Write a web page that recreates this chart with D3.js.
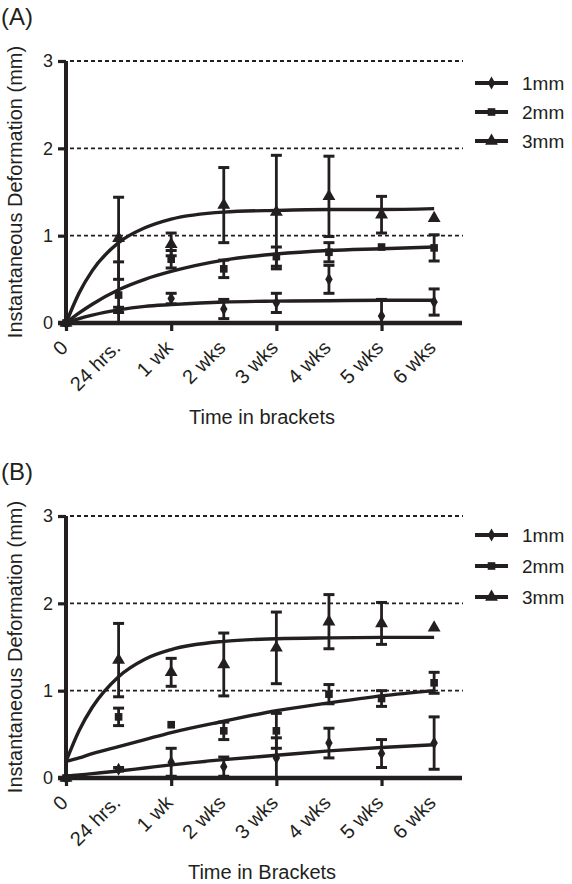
<!DOCTYPE html>
<html>
<head>
<meta charset="utf-8">
<script src="https://cdn.jsdelivr.net/npm/d3@7"></script>
<style>
  html, body { margin: 0; padding: 0; background: #fff; }
  svg text { font-family: "Liberation Sans", Arial, Helvetica, sans-serif; fill: #231f20; }
</style>
</head>
<body>
<svg id="chart" width="572" height="884"></svg>
<script>
// categories on the x axis (index positions 0..7)
var categories = ["0", "24 hrs.", "1 wk", "2 wks", "3 wks", "4 wks", "5 wks", "6 wks"];
var seriesNames = ["1mm", "2mm", "3mm"];
var yTicks = [0, 1, 2, 3];
var xMarkTicks = [0, 2, 4, 6];

// panel A - means and error values
var a1mm = [0, 0.15, 0.28, 0.16, 0.23, 0.50, 0.08, 0.24];
var a1mmErr = [0, 0.03, 0.06, 0.11, 0.11, 0.16, 0.19, 0.15];
var a2mm = [0, 0.32, 0.73, 0.62, 0.76, 0.81, 0.87, 0.86];
var a2mmErr = [0, 0.38, 0.10, 0.10, 0.11, 0.11, 0, 0.15];
var a3mm = [0, 0.97, 0.90, 1.35, 1.27, 1.45, 1.24, 1.20];
var a3mmErr = [0, 0.47, 0.13, 0.43, 0.65, 0.46, 0.21, 0];

// panel B - means and error values
var b1mm = [0, 0.10, 0.18, 0.13, 0.23, 0.40, 0.28, 0.40];
var b1mmErr = [0, 0.02, 0.16, 0.11, 0.23, 0.17, 0.16, 0.30];
var b2mm = [0, 0.70, 0.61, 0.54, 0.54, 0.96, 0.91, 1.09];
var b2mmErr = [0, 0.10, 0, 0.10, 0.20, 0.11, 0.09, 0.12];
var b3mm = [0, 1.35, 1.21, 1.30, 1.49, 1.79, 1.77, 1.72];
var b3mmErr = [0, 0.42, 0.16, 0.36, 0.41, 0.31, 0.24, 0];

// fitted curves at these x positions
var fitX = [0, 0.25, 0.5, 1, 1.5, 2, 3, 4, 5, 6, 7];
var a1fit = [0, 0.05, 0.09, 0.15, 0.19, 0.21, 0.24, 0.25, 0.255, 0.26, 0.26];
var a2fit = [0, 0.115, 0.215, 0.38, 0.50, 0.59, 0.72, 0.79, 0.83, 0.85, 0.87];
var a3fit = [0, 0.345, 0.60, 0.92, 1.09, 1.19, 1.27, 1.29, 1.30, 1.30, 1.31];
var b1fit = [0.02, 0.035, 0.05, 0.08, 0.115, 0.15, 0.21, 0.26, 0.31, 0.35, 0.38];
var b2fit = [0.19, 0.23, 0.28, 0.36, 0.44, 0.52, 0.65, 0.77, 0.86, 0.94, 1.00];
var b3fit = [0.19, 0.545, 0.81, 1.16, 1.36, 1.47, 1.565, 1.595, 1.605, 1.61, 1.61];

var INK = "#231f20";
var symbols = [d3.symbolDiamond, d3.symbolSquare, d3.symbolTriangle];
var symbolSizes = [48, 58, 72];

var svg = d3.select("#chart");

var x = d3.scaleLinear().domain([0, 7.53]).range([66, 462]);

function drawPanel(p) {
    var y = d3.scaleLinear().domain([0, 3]).range([p.yZero, p.yZero - 262]);
    var g = svg.append("g").attr("class", "panel");

    var means = [p.s1, p.s2, p.s3];
    var errs = [p.e1, p.e2, p.e3];
    var fits = [p.f1, p.f2, p.f3];

    // dashed grid
    g.append("g").selectAll("line")
        .data(yTicks.slice(1))
        .enter().append("line")
        .attr("x1", 70).attr("x2", x(7.53) + 1)
        .attr("y1", function (d) { return y(d); })
        .attr("y2", function (d) { return y(d); })
        .attr("stroke", INK)
        .attr("stroke-width", 1.8)
        .attr("stroke-dasharray", "4,3");

    // fitted curves
    var line = d3.line()
        .x(function (d) { return x(d[0]); })
        .y(function (d) { return y(d[1]); })
        .curve(d3.curveMonotoneX);

    fits.forEach(function (f) {
        g.append("path")
            .attr("d", line(fitX.map(function (v, i) { return [v, f[i]]; })))
            .attr("fill", "none")
            .attr("stroke", INK)
            .attr("stroke-width", 3.4);
    });

    // error bars
    means.forEach(function (m, s) {
        var bars = g.append("g").selectAll("g")
            .data(m.map(function (v, i) { return {i: i, v: v, e: errs[s][i]}; })
                .filter(function (d) { return d.e > 0; }))
            .enter().append("g");

        bars.append("line")
            .attr("x1", function (d) { return x(d.i); })
            .attr("x2", function (d) { return x(d.i); })
            .attr("y1", function (d) { return y(Math.max(0, d.v - d.e)); })
            .attr("y2", function (d) { return y(d.v + d.e); })
            .attr("stroke", INK).attr("stroke-width", 2.8);

        bars.append("line")
            .attr("x1", function (d) { return x(d.i) - 5.5; })
            .attr("x2", function (d) { return x(d.i) + 5.5; })
            .attr("y1", function (d) { return y(d.v + d.e); })
            .attr("y2", function (d) { return y(d.v + d.e); })
            .attr("stroke", INK).attr("stroke-width", 3);

        bars.filter(function (d) { return d.v - d.e > 0; })
            .append("line")
            .attr("x1", function (d) { return x(d.i) - 5.5; })
            .attr("x2", function (d) { return x(d.i) + 5.5; })
            .attr("y1", function (d) { return y(d.v - d.e); })
            .attr("y2", function (d) { return y(d.v - d.e); })
            .attr("stroke", INK).attr("stroke-width", 3);
    });

    // markers
    means.forEach(function (m, s) {
        g.append("g").selectAll("path")
            .data(m)
            .enter().append("path")
            .attr("d", d3.symbol().type(symbols[s]).size(symbolSizes[s]))
            .attr("transform", function (d, i) { return "translate(" + x(i) + "," + y(d) + ")"; })
            .attr("fill", INK);
    });

    // y axis
    var yAxis = g.append("g")
        .attr("transform", "translate(" + x(0) + ",0)")
        .call(d3.axisLeft(y).tickValues(yTicks).tickSize(8).tickPadding(5).tickFormat(d3.format("d")));
    yAxis.select(".domain").attr("stroke", INK).attr("stroke-width", 4)
        .attr("d", "M0," + y(3) + "V" + y(0));
    yAxis.selectAll(".tick line").attr("stroke", INK).attr("stroke-width", 3.2);
    yAxis.selectAll(".tick text").attr("font-size", 18).attr("fill", INK)
        .style("font-family", "'Liberation Sans', Arial, sans-serif");

    // x axis: line and tick marks
    var xAxis = g.append("g")
        .attr("transform", "translate(0," + y(0) + ")")
        .call(d3.axisBottom(x).tickValues(xMarkTicks).tickSize(8).tickFormat(""));
    xAxis.select(".domain").attr("stroke", INK).attr("stroke-width", 4.5)
        .attr("d", "M" + (x(0) - 8) + ",0H" + x(7.53));
    xAxis.selectAll(".tick line").attr("stroke", INK).attr("stroke-width", 3.2);

    // x axis: rotated category labels
    g.append("g").selectAll("text")
        .data(categories)
        .enter().append("text")
        .attr("transform", function (d, i) { return "translate(" + (x(i) + 3) + "," + (p.yZero + 26) + ") rotate(-45)"; })
        .attr("text-anchor", "end")
        .attr("font-size", 20)
        .text(function (d) { return d; });

    // titles
    g.append("text")
        .attr("x", 262).attr("y", p.yZero + 101)
        .attr("text-anchor", "middle")
        .attr("font-size", 20)
        .text(p.xTitle);

    g.append("text")
        .attr("transform", "translate(22," + (p.yZero - 131) + ") rotate(-90)")
        .attr("text-anchor", "middle")
        .attr("font-size", 20)
        .text("Instantaneous Deformation (mm)");

    g.append("text")
        .attr("x", 1).attr("y", p.yZero - 298)
        .attr("font-size", 24)
        .text(p.label);

    // legend
    var legend = g.append("g").selectAll("g")
        .data(seriesNames)
        .enter().append("g")
        .attr("transform", function (d, i) { return "translate(475," + (p.legendY + i * p.legendStep) + ")"; });

    legend.append("line")
        .attr("x1", 0).attr("x2", 33)
        .attr("stroke", INK).attr("stroke-width", 3.8);
    legend.append("path")
        .attr("d", function (d, i) { return d3.symbol().type(symbols[i]).size(symbolSizes[i])(); })
        .attr("transform", "translate(16.5,0)")
        .attr("fill", INK);
    legend.append("text")
        .attr("x", 47).attr("y", 7)
        .attr("font-size", 19)
        .text(function (d) { return d; });
}

drawPanel({
    label: "(A)", xTitle: "Time in brackets", yZero: 323,
    legendY: 83, legendStep: 29,
    s1: a1mm, s2: a2mm, s3: a3mm,
    e1: a1mmErr, e2: a2mmErr, e3: a3mmErr,
    f1: a1fit, f2: a2fit, f3: a3fit
});

drawPanel({
    label: "(B)", xTitle: "Time in Brackets", yZero: 778,
    legendY: 535, legendStep: 31,
    s1: b1mm, s2: b2mm, s3: b3mm,
    e1: b1mmErr, e2: b2mmErr, e3: b3mmErr,
    f1: b1fit, f2: b2fit, f3: b3fit
});
</script>
</body>
</html>
